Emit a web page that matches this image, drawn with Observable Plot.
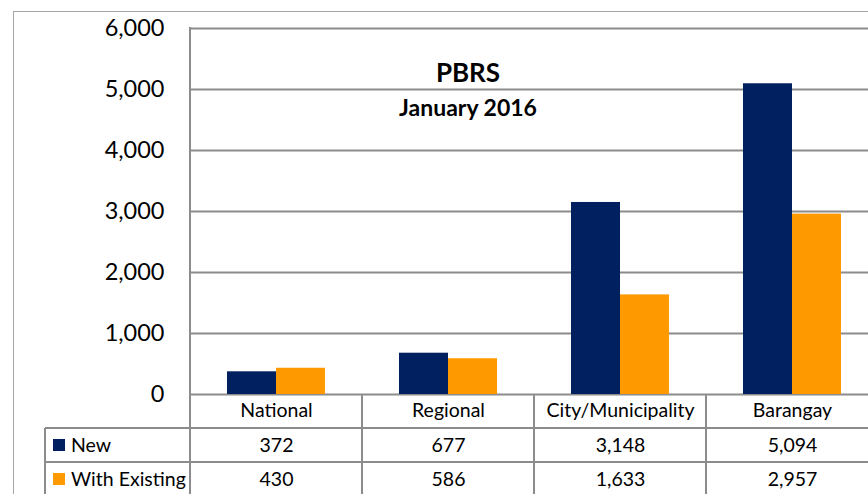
<!DOCTYPE html>
<html><head><meta charset="utf-8">
<script src="https://cdn.jsdelivr.net/npm/d3@7"></script>
<script src="https://cdn.jsdelivr.net/npm/@observablehq/plot@0.6"></script>
<style>
body{margin:0;background:#fff;}
#wrap{position:relative;width:868px;height:494px;overflow:hidden;background:#fff;font-family:Lato,sans-serif;}
#border{position:absolute;left:13px;top:11px;width:1000px;height:700px;border-left:1.5px solid #a6a6a6;border-top:1.5px solid #a6a6a6;}
#chart{position:absolute;left:0;top:0;}
.t1{position:absolute;left:368px;width:200px;text-align:center;font-weight:bold;line-height:1;color:#000;}
</style>
</head><body>
<div id="wrap">
  <div id="border"></div>
  <div id="chart"></div>
  <div class="t1" style="top:59px;font-size:26px;">PBRS</div>
  <div class="t1" style="top:96px;font-size:23px;">January 2016</div>
</div>
<script>
const categories = ["National", "Regional", "City/Municipality", "Barangay"];
const seriesNames = ["New", "With Existing"];
const newValues = [372, 677, 3148, 5094];
const existingValues = [430, 586, 1633, 2957];
const yTicks = [0, 1000, 2000, 3000, 4000, 5000, 6000];
const colors = ["#002060", "#ff9900"];

const rows = [];
categories.forEach((c, i) => {
  rows.push({category: c, series: seriesNames[0], value: newValues[i]});
  rows.push({category: c, series: seriesNames[1], value: existingValues[i]});
});
const fmt = d3.format(",");
const grid = "#8c8c8c";
const fs = 19.5;

const chart = Plot.plot({
  width: 878,
  height: 494,
  marginLeft: 190,
  marginRight: 0,
  marginTop: 28,
  marginBottom: 100,
  style: {fontFamily: "Lato, sans-serif", fontSize: "23.5px", color: "#000", background: "none", maxWidth: "none", overflow: "visible"},
  fx: {domain: categories, padding: 0, axis: null},
  x: {domain: seriesNames, paddingInner: 0, paddingOuter: 0.755, axis: null},
  y: {domain: [0, 6000], axis: null},
  color: {domain: seriesNames, range: colors},
  marks: [
    Plot.ruleY(yTicks, {stroke: grid, strokeWidth: 2}),
    Plot.axisY(yTicks, {tickFormat: fmt, tickSize: 0, tickPadding: 26, fontSize: 23.5, label: null}),
    Plot.barY(rows, {fx: "category", x: "series", y: "value", fill: "series", inset: 0}),
    Plot.text(categories, {fx: d => d, text: d => d, frameAnchor: "bottom", dy: 22, fontSize: fs}),
    Plot.text(categories.map((c, i) => ({c, v: newValues[i]})), {fx: "c", text: d => fmt(d.v), frameAnchor: "bottom", dy: 57, fontSize: fs}),
    Plot.text(categories.map((c, i) => ({c, v: existingValues[i]})), {fx: "c", text: d => fmt(d.v), frameAnchor: "bottom", dy: 91, fontSize: fs})
  ]
});
document.getElementById("chart").appendChild(chart);

// table grid lines and row legend, positioned from the plot's scales
const fxs = chart.scale("fx");
const ys = chart.scale("y");
const y0 = ys.apply(0);
const yTop = ys.apply(6000);
const rowH = 34;
const bw = fxs.bandwidth;
const left = fxs.apply(categories[0]);
const right = fxs.apply(categories[categories.length - 1]) + bw;
const legendLeft = 45;
const bottom = 520;
const svg = d3.select(chart);
const g = svg.append("g").attr("stroke", grid).attr("stroke-width", 2).attr("fill", "none");
g.append("line").attr("x1", left).attr("x2", left).attr("y1", yTop - 1).attr("y2", bottom);
categories.slice(1).forEach(c => {
  const x = fxs.apply(c);
  g.append("line").attr("x1", x).attr("x2", x).attr("y1", y0).attr("y2", bottom);
});
g.append("line").attr("x1", right).attr("x2", right).attr("y1", y0).attr("y2", bottom);
[1, 2].forEach(k => {
  g.append("line").attr("x1", legendLeft).attr("x2", right).attr("y1", y0 + k * rowH).attr("y2", y0 + k * rowH);
});
g.append("line").attr("x1", legendLeft).attr("x2", legendLeft).attr("y1", y0 + rowH).attr("y2", bottom);
const lg = svg.append("g").attr("font-family", "Lato, sans-serif").attr("font-size", fs).attr("text-anchor", "start");
seriesNames.forEach((s, i) => {
  const cy = y0 + rowH * (i + 1.5);
  lg.append("rect").attr("x", 53).attr("y", cy - 6).attr("width", 12).attr("height", 12).attr("fill", colors[i]);
  lg.append("text").attr("x", 71).attr("y", cy).attr("dy", "0.35em").attr("fill", "#000").attr("text-anchor", "start").text(s);
});
</script>
</body></html>
